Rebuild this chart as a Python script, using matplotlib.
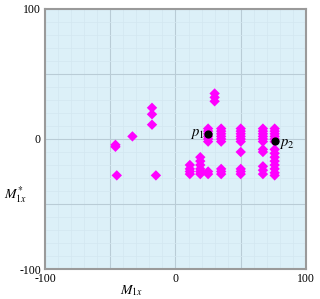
import numpy as np
import matplotlib
matplotlib.use('Agg')
from matplotlib import pyplot as plt

# scatter columns (x position -> list of y values)
col_x = [25, 35, 50, 67, 76, 30, 11, 19]
col_y = [
    [8, 6, 4, 2, 0, -2, -25, -27],
    [8, 6, 4, 2, 0, -2, -23, -25, -27],
    [8, 6, 4, 2, 0, -2, -10, -23, -25, -27],
    [8, 6, 4, 2, 0, -2, -8, -10, -21, -24, -27],
    [8, 6, 4, 2, 0, -2, -8, -11, -14, -17, -20, -23, -26, -28],
    [35, 32, 29],
    [-20, -23, -25, -27],
    [-14, -17, -20, -23, -25, -27],
]
# isolated points
lone_x = [-46, -46, -45, -33, -18, -18, -18, -15]
lone_y = [-4.5, -6, -28, 2, 24, 19, 11, -28]
# labelled points
p_x = [25, 76]
p_y = [4, -1.5]
p_names = ['$p_1$', '$p_2$']

xs = []
ys = []
for cx, cy in zip(col_x, col_y):
    xs += [cx] * len(cy)
    ys += cy
xs += lone_x
ys += lone_y

plt.rcParams['font.family'] = ['Liberation Serif', 'DejaVu Serif']
plt.rcParams['mathtext.fontset'] = 'stix'

fig = plt.figure(figsize=(3.2, 2.99), dpi=100)
ax = fig.add_axes([0.1406, 0.1003, 0.8156, 0.8697])
ax.set_facecolor('#dcf0f8')
ax.set_xlim(-100, 100)
ax.set_ylim(-100, 100)

ax.set_xticks([-100, -50, 0, 50, 100])
ax.set_yticks([-100, -50, 0, 50, 100])
ax.set_xticks(np.arange(-100, 101, 10), minor=True)
ax.set_yticks(np.arange(-100, 101, 10), minor=True)
ax.grid(which='major', color='#b9ccd6', lw=0.8)
ax.grid(which='minor', color='#d3e7f0', lw=0.5)
ax.set_axisbelow(True)
ax.set_xticklabels(['-100', '', '0', '', '100'])
ax.set_yticklabels(['-100', '', '0', '', '100'])
ax.tick_params(which='both', length=0, labelsize=8.5, pad=3)
for s in ax.spines.values():
    s.set_color('#9a9a9a')
    s.set_linewidth(1.5)

ax.scatter(xs, ys, marker='D', s=28, color='#ff00ff', edgecolors='none', zorder=3)
ax.scatter(p_x, p_y, marker='o', s=24, color='black', zorder=4)
ax.text(p_x[0] - 3, p_y[0], p_names[0], fontsize=10.5, ha='right', va='center')
ax.text(p_x[1] + 3, p_y[1] - 2, p_names[1], fontsize=10.5, ha='left', va='center')

fig.text(132 / 320, 1 - 291 / 299, '$M_{1x}$', fontsize=10, ha='center', va='center')
fig.text(16 / 320, 1 - 195 / 299, '$M_{1x}^{*}$', fontsize=10, ha='center', va='center')

fig.savefig('out.png', dpi=100)
